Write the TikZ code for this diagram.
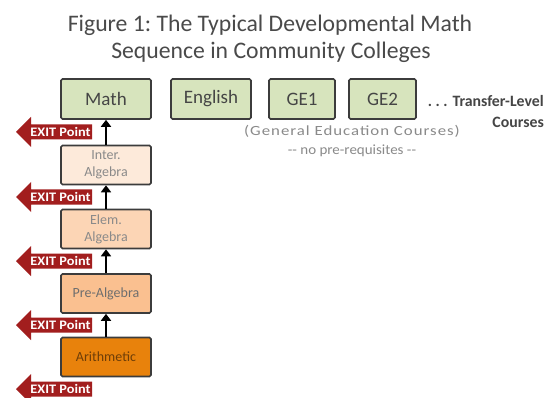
\documentclass[tikz,border=0pt]{standalone}
\usepackage{fontspec}
\usepackage{graphicx}
\setmainfont{Carlito}
\frenchspacing
\usetikzlibrary{arrows.meta}
\definecolor{boxgreen}{HTML}{D7E4BD}
\definecolor{boxline}{HTML}{3C3C3C}
\definecolor{txtdark}{HTML}{454545}
\definecolor{txtlight}{HTML}{8A8A8A}
\definecolor{interfill}{HTML}{FDEADA}
\definecolor{elemfill}{HTML}{FCD5B5}
\definecolor{prefill}{HTML}{FAC090}
\definecolor{arithfill}{HTML}{E8820C}
\definecolor{arithtxt}{HTML}{6E3E08}
\definecolor{exitred}{HTML}{A21E1E}
\definecolor{titlegray}{HTML}{4A4A4A}
\tikzset{
  course/.style={draw=boxline, line width=1.6pt, rounded corners=1.5pt,
    minimum height=40pt, inner sep=0pt, fill=boxgreen, text=txtdark,
    font=\fontsize{19}{20}\selectfont},
  devbox/.style={draw=boxline, line width=1.6pt, rounded corners=1.5pt,
    minimum width=90pt, minimum height=39pt, inner sep=0pt, align=center,
    text=txtlight, font=\fontsize{14}{17}\selectfont},
  uparrow/.style={-{Triangle[length=7pt,width=10pt]}, line width=2.6pt, black},
  exittext/.style={text=white, inner sep=0pt, font=\bfseries\fontsize{13}{13}\selectfont},
  exitpt/.pic={
    \fill[exitred] (38,-7.5) -- (-23,-7.5) -- (-23,-15) -- (-38,0) -- (-23,15)
      -- (-23,7.5) -- (38,7.5) -- cycle;
    \node[exittext] (-t) at (6.5,0) {\scalebox{1.1}[1]{EXIT Point}};
  },
  titletext/.style={anchor=base, text=titlegray, inner sep=0pt,
    font=\fontsize{23.7}{27}\selectfont},
  notetext/.style={text=txtlight, inner sep=0pt, anchor=base, font=\fontsize{14}{16}\selectfont},
  transfer/.style={text=txtdark, inner sep=0pt, anchor=base east,
    font=\bfseries\fontsize{15.8}{18}\selectfont}
}
\begin{document}
\begin{tikzpicture}[x=1pt,y=-1pt]
\useasboundingbox (0,0) rectangle (551,398);
\fill[white] (0,0) rectangle (551,398);

% title
\node[titletext] (t1) at (270,32) {Figure 1: The Typical Developmental Math};
\node[titletext] (t2) at (271,59) {Sequence in Community Colleges};

% transfer-level courses
\node[course, minimum width=90pt] (math) at (106,99) {Math};
\node[course, minimum width=80pt] (eng) at (211,99) {English};
\node[course, minimum width=66pt] (ge1) at (302,99) {GE1};
\node[course, minimum width=67pt] (ge2) at (382.5,99) {GE2};
\node[transfer] (tl) at (544,107) {.\hspace{3.5pt}.\hspace{3.5pt}.\hspace{5pt}Transfer-Level};
\node[transfer] (tc) at (544,128) {Courses};
\node[notetext] (gen) at (352,136) {\scalebox{1.2}[1]{\addfontfeatures{LetterSpace=6}(General Education Courses)}};
\node[notetext] (npr) at (352,155) {\scalebox{1.07}[1]{-{}- no pre-requisites -{}-}};

% developmental sequence
\node[devbox, fill=interfill] (inter) at (106,165) {Inter.\\Algebra};
\node[devbox, fill=elemfill] (elem) at (106,229) {Elem.\\Algebra};
\node[devbox, fill=prefill, text=txtlight!80!black] (pre) at (106,293.5) {Pre-Algebra};
\node[devbox, fill=arithfill, text=arithtxt] (arith) at (106,357) {Arithmetic};

\draw[uparrow] (arith.north) -- (pre.south);
\draw[uparrow] (pre.north) -- (elem.south);
\draw[uparrow] (elem.north) -- (inter.south);
\draw[uparrow] (inter.north) -- (math.south);

% exit points
\pic (ex1) at (54,132) {exitpt};
\pic (ex2) at (54,197) {exitpt};
\pic (ex3) at (54,261) {exitpt};
\pic (ex4) at (54,325) {exitpt};
\pic (ex5) at (54,389) {exitpt};
\end{tikzpicture}
\end{document}
